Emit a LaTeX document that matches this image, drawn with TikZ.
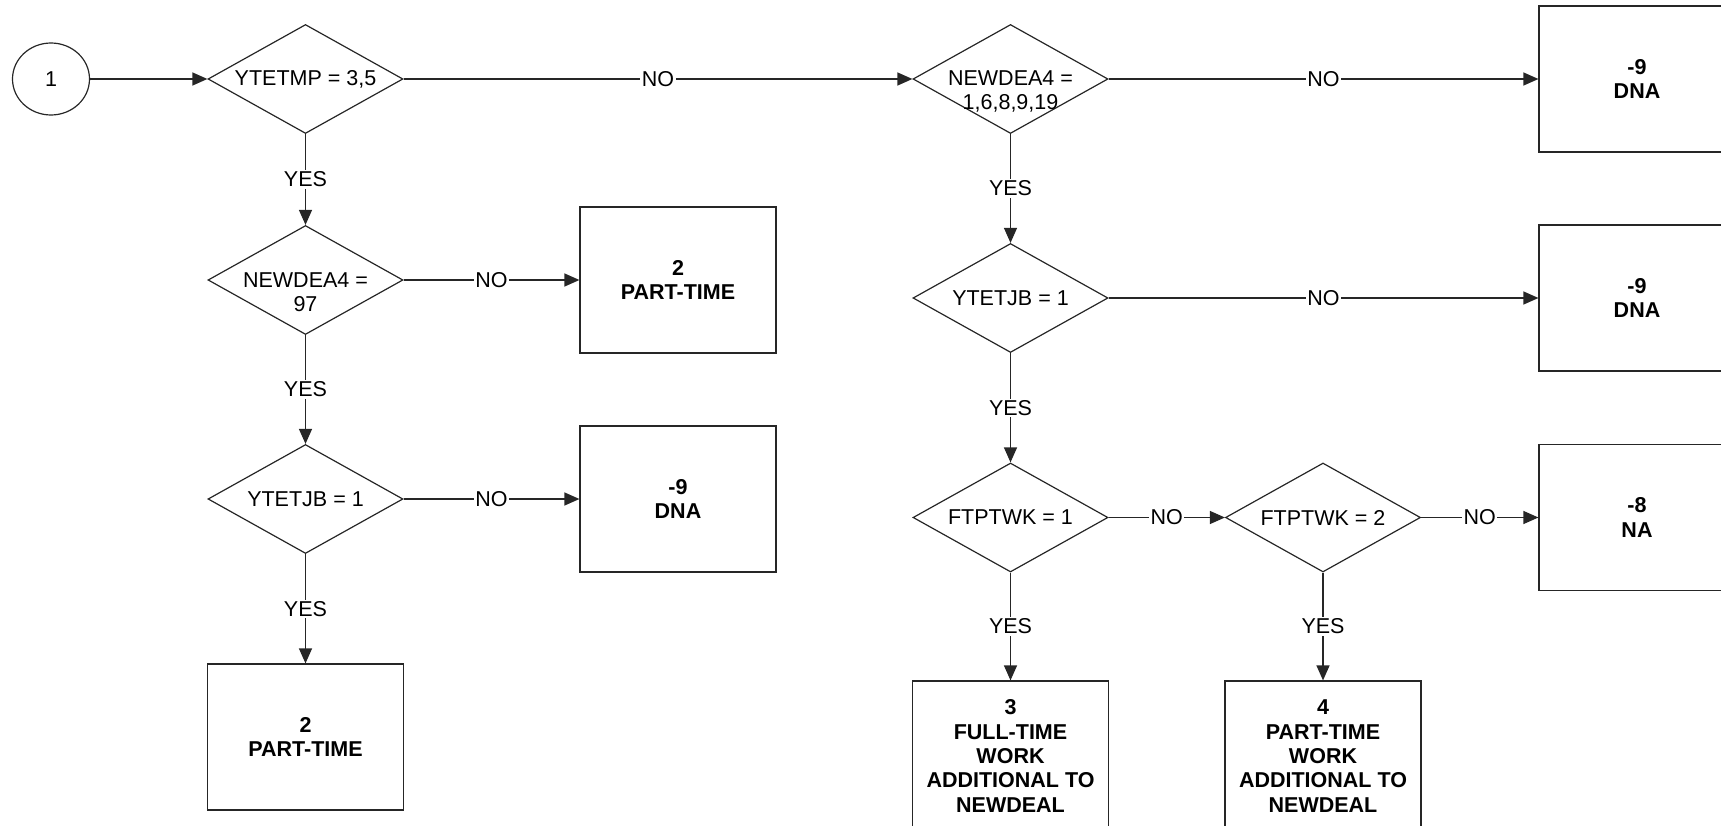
\documentclass[tikz,border=0pt]{standalone}
\usepackage{fontspec}
\setmainfont{Liberation Sans}
\usetikzlibrary{shapes.geometric,arrows.meta}
\begin{document}
\begin{tikzpicture}[x=1pt,y=-1pt,
  font=\fontsize{21.5}{24.3}\selectfont,
  ln/.style={draw=black!85, line width=1.3pt},
  arr/.style={ln, -{Triangle[length=15pt,width=13pt]}},
  dia/.style={diamond, draw=black!85, line width=1.2pt, minimum width=195pt, minimum height=109pt, inner sep=0pt},
  res/.style={rectangle, draw=black!85, line width=1.2pt, minimum width=196pt, minimum height=146pt, inner sep=0pt, align=center, font=\fontsize{21.5}{24.3}\selectfont\bfseries},
  lbl/.style={fill=white, inner sep=1.5pt},
  txt/.style={inner sep=0pt, align=center}]
\useasboundingbox (0,0) rectangle (1721,826);
\clip (0,0) rectangle (1721,826);
% left column
\node[ellipse, draw=black!85, line width=1.2pt, minimum width=77pt, minimum height=72pt, inner sep=0pt] (c1) at (51,79) {1};
\node[dia] (d1) at (305.5,79) {};
\node[txt] (t1) at (d1) {YTETMP = 3,5};
\node[dia] (d2) at (305.5,280) {};
\node[txt] (t2) at ([yshift=-12.15pt]d2.center) {NEWDEA4 =\\97};
\node[dia] (d3) at (305.5,499) {};
\node[txt] (t3) at (d3) {YTETJB = 1};
\node[res] (r1) at (678,280) {2\\PART-TIME};
\node[res] (r2) at (678,499) {-9\\DNA};
\node[res] (r3) at (305.5,737) {2\\PART-TIME};
% right part
\node[dia] (d4) at (1010.5,79) {};
\node[txt] (t4) at ([yshift=-12.15pt]d4.center) {NEWDEA4 =\\1,6,8,9,19};
\node[dia] (d5) at (1010.5,298) {};
\node[txt] (t5) at (d5) {YTETJB = 1};
\node[dia] (d6) at (1010.5,517.5) {};
\node[txt] (t6) at (d6) {FTPTWK = 1};
\node[dia] (d7) at (1323,517.5) {};
\node[txt] (t7) at (d7) {FTPTWK = 2};
\node[res] (r4) at (1637,79) {-9\\DNA};
\node[res] (r5) at (1637,298) {-9\\DNA};
\node[res] (r6) at (1637,517.5) {-8\\NA};
\node[res, minimum height=150pt] (r7) at (1010.5,756) {3\\FULL-TIME\\WORK\\ADDITIONAL TO\\NEWDEAL};
\node[res, minimum height=150pt] (r8) at (1323,756) {4\\PART-TIME\\WORK\\ADDITIONAL TO\\NEWDEAL};
% connectors
\draw[arr] (c1) -- (d1);
\draw[arr] (d1) -- node[lbl]{NO} (d4);
\draw[arr] (d1) -- node[lbl]{YES} (d2);
\draw[arr] (d2) -- node[lbl]{NO} (r1);
\draw[arr] (d2) -- node[lbl]{YES} (d3);
\draw[arr] (d3) -- node[lbl]{NO} (r2);
\draw[arr] (d3) -- node[lbl]{YES} (r3);
\draw[arr] (d4) -- node[lbl]{NO} (r4);
\draw[arr] (d4) -- node[lbl]{YES} (d5);
\draw[arr] (d5) -- node[lbl]{NO} (r5);
\draw[arr] (d5) -- node[lbl]{YES} (d6);
\draw[arr] (d6) -- node[lbl]{NO} (d7);
\draw[arr] (d7) -- node[lbl]{NO} (r6);
\draw[arr] (d6) -- node[lbl]{YES} (r7);
\draw[arr] (d7) -- node[lbl]{YES} (r8);
\end{tikzpicture}
\end{document}
